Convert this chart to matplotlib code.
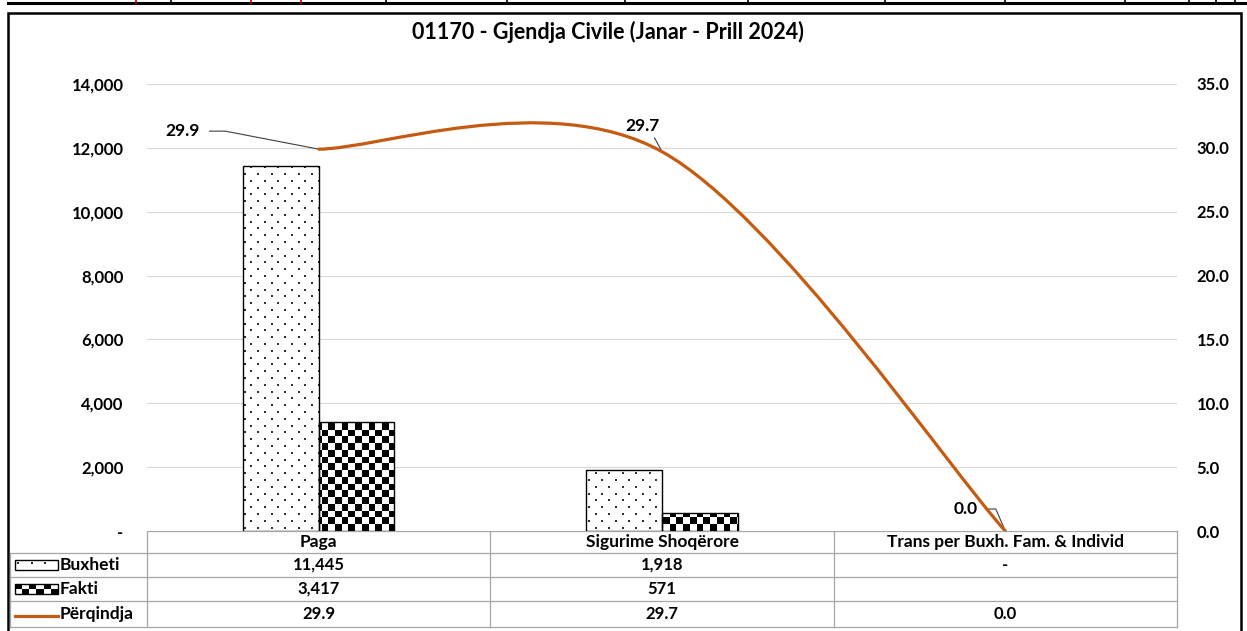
import numpy as np
import matplotlib
matplotlib.use('Agg')
import matplotlib.pyplot as plt
from matplotlib.path import Path
from matplotlib.patches import PathPatch, Rectangle
from matplotlib.lines import Line2D
from matplotlib import font_manager

# ---------------- data ----------------
title = '01170 - Gjendja Civile (Janar - Prill 2024)'
categories = ['Paga', 'Sigurime Shoqërore', 'Trans per Buxh. Fam. & Individ']
series_names = ['Buxheti', 'Fakti', 'Përqindja']
buxheti = [11445, 1918, 0]
fakti = [3417, 571, np.nan]
perqindja = [29.9, 29.7, 0.0]
buxheti_labels = ['11,445', '1,918', '-']
fakti_labels = ['3,417', '571', '']
perqindja_labels = ['29.9', '29.7', '0.0']
left_ticks = [0, 2000, 4000, 6000, 8000, 10000, 12000, 14000]
left_tick_labels = ['-', '2,000', '4,000', '6,000', '8,000', '10,000', '12,000', '14,000']
right_ticks = [0, 5, 10, 15, 20, 25, 30, 35]
right_tick_labels = ['0.0', '5.0', '10.0', '15.0', '20.0', '25.0', '30.0', '35.0']

# ---------------- style ----------------
avail = {f.name for f in font_manager.fontManager.ttflist}
FONT = [f for f in ['Lato', 'Liberation Sans', 'DejaVu Sans'] if f in avail]
plt.rcParams['font.family'] = FONT
plt.rcParams['font.weight'] = 'bold'

ORANGE = '#C55A11'
GRID = '#D9D9D9'
TBL = '#A6A6A6'
FS_TICK = 12
FS_LAB = 12.5
FS_TXT = 12.5    # table headers / row names
FS_NUM = 12      # table values
FS_TITLE = 15.5

W, H = 1247, 631
fig = plt.figure(figsize=(W / 100, H / 100), dpi=100)


def fx(px):
    return px / W


def fy(py):
    return 1 - py / H


L, R, T, B = 147, 1177, 84, 531
AW, AH = R - L, B - T
ax = fig.add_axes([fx(L), fy(B), AW / W, AH / H])
x = np.arange(len(categories))
XL = (-0.5, len(categories) - 0.5)
ax.set_xlim(*XL)
ax.set_ylim(0, 14000)
bw = 0.22

for s in ax.spines.values():
    s.set_visible(False)
ax.set_yticks(left_ticks)
ax.set_yticklabels(left_tick_labels, fontsize=FS_TICK, fontweight='bold')
ax.tick_params(axis='y', length=0, pad=17)
ax.set_xticks([])
for t in left_ticks[1:]:
    ax.axhline(t, color=GRID, lw=0.8, zorder=0)

# texture helpers (pixel based patterns)
DX, DY = 13.5, 6.8          # dotted pattern spacing
CELL = 6.7                  # checkerboard cell size


def dot_grid(w, h):
    pts = []
    for j, yy in enumerate(np.arange(DY / 2, h, DY)):
        off = 0 if j % 2 == 0 else DX / 2
        for xx in np.arange(off + 3, w, DX):
            pts.append((xx, yy))
    return np.array(pts)


# Buxheti bars (dotted)
bbars = ax.bar(x - bw / 2, buxheti, width=bw, facecolor='none', edgecolor='black',
               linewidth=1.0, zorder=4)
ax.bar(x - bw / 2, buxheti, width=bw, facecolor='white', edgecolor='none', zorder=2)
g = dot_grid(AW, AH)
for b in bbars:
    if not np.isfinite(b.get_height()) or b.get_height() <= 0:
        b.set_visible(False)
        continue
    sc = ax.scatter(g[:, 0] / AW, g[:, 1] / AH, s=1.6, color='#303030', marker='s',
                    linewidths=0, transform=ax.transAxes, zorder=3)
    sc.set_clip_path(b)

# Fakti bars (checkerboard)
nx = int(np.ceil(AW / CELL))
ny = int(np.ceil(AH / CELL))
checker = (np.indices((ny, nx)).sum(0) % 2).astype(float)
fbars = ax.bar(x + bw / 2, np.nan_to_num(fakti), width=bw, facecolor='none',
               edgecolor='black', linewidth=1.0, zorder=4)
for b, v in zip(fbars, fakti):
    if np.isnan(v) or v == 0:
        b.set_visible(False)
        continue
    im = ax.imshow(checker[::-1], extent=(XL[0], XL[0] + (XL[1] - XL[0]) * nx * CELL / AW,
                                           0, 14000 * ny * CELL / AH),
                   cmap='gray', vmin=0, vmax=1, interpolation='nearest',
                   aspect='auto', zorder=3, origin='upper')
    im.set_clip_path(b)
ax.set_xlim(*XL)
ax.set_ylim(0, 14000)

# percentage line (Excel-style smoothed)
ax2 = ax.twinx()
ax2.set_ylim(0, 35)
for s in ax2.spines.values():
    s.set_visible(False)
ax2.set_yticks(right_ticks)
ax2.set_yticklabels(right_tick_labels, fontsize=FS_TICK, fontweight='bold')
ax2.tick_params(axis='y', length=0, pad=14)
P = np.column_stack([x, perqindja]).astype(float)
n = len(P)
verts = [P[0]]
codes = [Path.MOVETO]
for i in range(n - 1):
    pm = P[i - 1] if i > 0 else P[i]
    pp = P[i + 2] if i + 2 < n else P[i + 1]
    c1 = P[i] + (P[i + 1] - pm) / 6
    c2 = P[i + 1] - (pp - P[i]) / 6
    verts += [c1, c2, P[i + 1]]
    codes += [Path.CURVE4] * 3
ax2.add_patch(PathPatch(Path(verts, codes), facecolor='none', edgecolor=ORANGE,
                        lw=2.3, zorder=5, capstyle='round'))

# data labels
lab_kw = dict(fontsize=FS_LAB, fontweight='bold', textcoords='offset pixels')
ax2.annotate(perqindja_labels[0], xy=(x[0], perqindja[0]), xytext=(-119, 18),
             ha='right', va='center',
             arrowprops=dict(arrowstyle='-', color='#404040', lw=0.8, shrinkA=5, shrinkB=0,
                             relpos=(1, 0.5),
                             connectionstyle='angle,angleA=0,angleB=-10.9,rad=0'),
             **lab_kw)
ax2.annotate(perqindja_labels[1], xy=(x[1], perqindja[1]), xytext=(-20, 26),
             ha='center', va='center',
             arrowprops=dict(arrowstyle='-', color='#404040', lw=0.8, shrinkA=1, shrinkB=0,
                             relpos=(0.8, 0)),
             **lab_kw)
ax2.annotate(perqindja_labels[2], xy=(x[2], perqindja[2]), xytext=(-28, 22),
             ha='right', va='center',
             arrowprops=dict(arrowstyle='-', color='#404040', lw=0.8, shrinkA=4, shrinkB=0,
                             relpos=(1, 0.5),
                             connectionstyle='angle,angleA=0,angleB=113.5,rad=0'),
             **lab_kw)

# ---------------- overlay: frame, title, data table ----------------
fax = fig.add_axes([0, 0, 1, 1], zorder=-1)
fax.set_xlim(0, W)
fax.set_ylim(H, 0)
fax.axis('off')

# spreadsheet strip at top
fax.add_line(Line2D([8, W], [3, 3], color='black', lw=2.2))
for vx in [136, 171, 251, 301, 386, 507, 625, 748, 885, 1005, 1125, 1189, 1216, 1235]:
    c = '#C00000' if vx in (136, 251, 301) else 'black'
    fax.add_line(Line2D([vx, vx], [0, 3], color=c, lw=1.2))
# chart frame
fax.add_patch(Rectangle((8, 13), 1233, 640, facecolor='white', edgecolor='black', lw=1.8,
                        zorder=0.5))

fig.text(fx(608), fy(32), title, ha='center', va='center', fontsize=FS_TITLE,
         fontweight='bold')

# table grid
col_edges = [L + AW * i / len(categories) for i in range(len(categories) + 1)]
row_y = [531, 553, 577, 601, 627]
fax.add_line(Line2D([L, R], [row_y[0], row_y[0]], color=TBL, lw=0.9))
for yy in row_y[1:]:
    fax.add_line(Line2D([10, R], [yy, yy], color=TBL, lw=0.9))
for cx in col_edges:
    fax.add_line(Line2D([cx, cx], [row_y[0], row_y[-1]], color=TBL, lw=0.9))
fax.add_line(Line2D([10, 10], [row_y[1], row_y[-1]], color=TBL, lw=0.9))

centers = [(col_edges[i] + col_edges[i + 1]) / 2 for i in range(len(categories))]
rows = [buxheti_labels, fakti_labels, perqindja_labels]
for i, c in enumerate(categories):
    fax.text(centers[i], (row_y[0] + row_y[1]) / 2, c, ha='center', va='center',
             fontsize=FS_TXT, fontweight='bold')
    for r, labs in enumerate(rows):
        fax.text(centers[i], (row_y[r + 1] + row_y[r + 2]) / 2, labs[i], ha='center',
                 va='center', fontsize=FS_NUM, fontweight='bold')

# row headers with legend keys
kx0, kx1 = 15, 58
for r, name in enumerate(series_names):
    yc = (row_y[r + 1] + row_y[r + 2]) / 2
    fax.text(60, yc, name, ha='left', va='center', fontsize=FS_TXT, fontweight='bold')
    if r == 0:
        kr = Rectangle((kx0, yc - 5), kx1 - kx0, 10, facecolor='white', edgecolor='black',
                       lw=1.0, zorder=3)
        fax.add_patch(kr)
        kg = dot_grid(kx1 - kx0, 10)
        ksc = fax.scatter(kx0 + kg[:, 0], yc - 5 + kg[:, 1], s=1.6, color='#303030',
                          marker='s', linewidths=0, zorder=4)
        ksc.set_clip_path(kr)
    elif r == 1:
        kr = Rectangle((kx0, yc - 5), kx1 - kx0, 10, facecolor='none', edgecolor='black',
                       lw=1.0, zorder=4)
        fax.add_patch(kr)
        kn = int(round((kx1 - kx0) / CELL))
        kim = fax.imshow(checker[:2, :kn], extent=(kx0, kx1, yc + 5, yc - 5), cmap='gray',
                         vmin=0, vmax=1, interpolation='nearest', aspect='auto', zorder=3)
        kim.set_clip_path(kr)
    else:
        fax.add_line(Line2D([kx0, kx1], [yc + 2, yc + 2], color=ORANGE, lw=2.3, zorder=3))
fax.set_xlim(0, W)
fax.set_ylim(H, 0)

fig.savefig('out.png', dpi=100)
